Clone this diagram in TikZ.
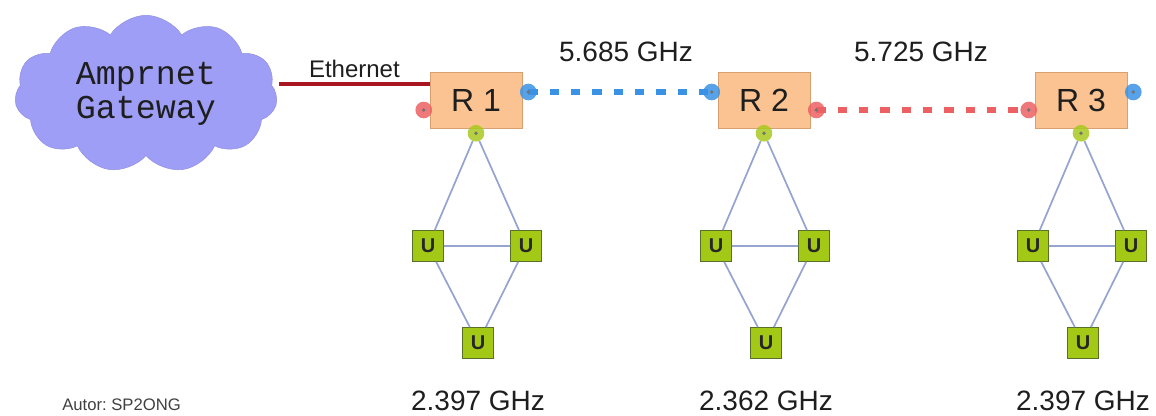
\documentclass[tikz,border=0pt]{standalone}
\usepackage{fontspec}
\setmainfont{Liberation Sans}
\newfontfamily\gwfont{Liberation Mono}
\usepackage{tikz}
\usetikzlibrary{shapes.symbols,calc,backgrounds}
\frenchspacing
\definecolor{ink}{RGB}{30,30,30}
\definecolor{cloudblue}{RGB}{158,158,246}
\definecolor{ethred}{RGB}{168,22,34}
\definecolor{boxorange}{RGB}{250,195,145}
\definecolor{boxedge}{RGB}{215,160,110}
\definecolor{linkblue}{RGB}{58,146,228}
\definecolor{linkred}{RGB}{236,96,100}
\definecolor{portgreen}{RGB}{168,200,30}
\definecolor{ugreen}{RGB}{164,200,22}
\definecolor{uedge}{RGB}{88,112,40}
\definecolor{meshgray}{RGB}{150,165,208}
\tikzset{
  router/.style={draw=boxedge,fill=boxorange,minimum width=69pt,minimum height=42pt,
    inner sep=0pt,font=\fontsize{24}{28}\selectfont,text=ink},
  port/.style={circle,fill=#1,fill opacity=0.85,minimum size=12.5pt,inner sep=0pt,
    path picture={\fill[black!55,fill opacity=1] (path picture bounding box.center) circle (1.4pt);}},
  user/.style={draw=uedge,line width=0.9pt,fill=ugreen,minimum size=23pt,inner sep=0pt,
    font=\bfseries\fontsize{15}{15}\selectfont,text=black!85},
  mesh/.style={meshgray,line width=1.3pt},
  ether/.style={ethred,line width=3.6pt},
  blink/.style={linkblue,line width=5.2pt,dash pattern=on 7pt off 9pt},
  rlink/.style={linkred,line width=5.2pt,dash pattern=on 7pt off 9pt},
  freq/.style={font=\fontsize{21}{24}\selectfont,text=ink,anchor=base,inner sep=0pt},
  label/.style={font=\fontsize{18}{20}\selectfont,text=ink}
}

\begin{document}
\begin{tikzpicture}[x=0.75pt,y=-0.75pt]
  \useasboundingbox (0,0) rectangle (1156,416);
  % gateway cloud
  \node[cloud,cloud puffs=11,cloud puff arc=115,aspect=1.7,fill=cloudblue,draw=cloudblue!92!black,
    minimum width=197pt,minimum height=118pt,align=center,text=ink,
    font=\gwfont\fontsize{25}{25}\selectfont] (gw) at (146,94) {Amprnet\\Gateway};
  % routers
  \node[router] (r1) at (476,100) {R 1};
  \node[router] (r2) at (764,100) {R 2};
  \node[router] (r3) at (1081,100) {R 3};
  % ports
  \node[port=linkred] (r1w) at ($(r1.west)+(-6,10)$) {};
  \node[port=linkblue] (r1e) at ($(r1.east)+(6,-8)$) {};
  \node[port=portgreen] (r1s) at ($(r1.south)+(0,5)$) {};
  \node[port=linkblue] (r2w) at ($(r2.west)+(-6,-8)$) {};
  \node[port=linkred] (r2e) at ($(r2.east)+(6,10)$) {};
  \node[port=portgreen] (r2s) at ($(r2.south)+(0,5)$) {};
  \node[port=linkred] (r3w) at ($(r3.west)+(-6,10)$) {};
  \node[port=linkblue] (r3e) at ($(r3.east)+(6,-8)$) {};
  \node[port=portgreen] (r3s) at ($(r3.south)+(0,5)$) {};
  \begin{scope}[on background layer]
    \draw[blink] (r1e.center) -- (r2w.center);
    \draw[rlink] (r2e.center) -- (r3w.center);
  \end{scope}
  % ethernet
  \coordinate (ethA) at (279,84);
  \draw[ether] (ethA) -- (ethA -| r1.west)
    node[midway,above=2pt,inner sep=1pt,label] (eth) {Ethernet};
  % user meshes
  \foreach \n/\x in {1/476,2/764,3/1081} {
    \node[user] (ul\n) at (\x-48,246) {U};
    \node[user] (ur\n) at (\x+50,246) {U};
    \node[user] (ub\n) at (\x+2,343) {U};
    \draw[mesh] (r\n s) -- (ul\n) (r\n s) -- (ur\n) (ul\n) -- (ur\n)
      (ul\n) -- (ub\n) (ur\n) -- (ub\n);
  }
  \node[freq] (f12) at (626,62) {5.685 GHz};
  \node[freq] (f23) at (921,62) {5.725 GHz};
  \node[freq] (f1) at (ub1 |- 0,411) {2.397 GHz};
  \node[freq] (f2) at (ub2 |- 0,411) {2.362 GHz};
  \node[freq] (f3) at (ub3 |- 0,411) {2.397 GHz};
  \node[anchor=base west,inner sep=0pt,text=black!75,font=\fontsize{12.5}{14}\selectfont] (autor) at (62,411) {Autor: SP2ONG};
\end{tikzpicture}
\end{document}
